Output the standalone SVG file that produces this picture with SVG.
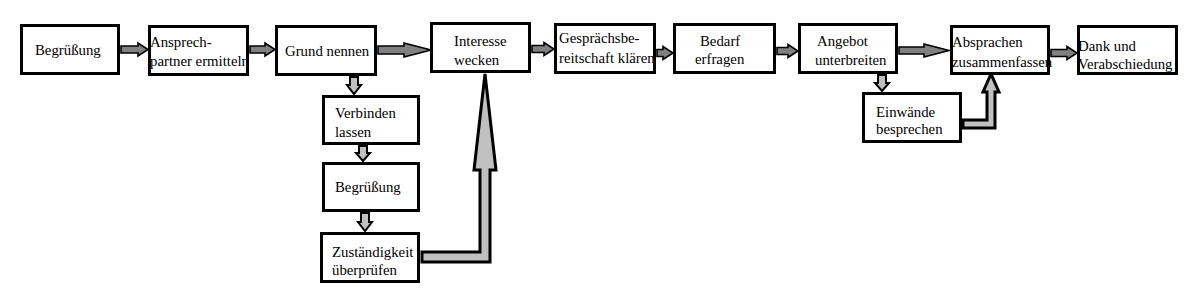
<svg xmlns="http://www.w3.org/2000/svg" width="1188" height="294" viewBox="0 0 1188 294">
<style>
.box{fill:#fff;stroke:#000;stroke-width:3}
text{font-family:'Liberation Serif','DejaVu Serif','Times New Roman',serif;font-size:14.8px;fill:#000}
.ha{fill:#808080;stroke:#000;stroke-width:1.6;stroke-linejoin:miter}
.va{fill:#c0c0c0;stroke:#000;stroke-width:2}
.big{fill:#c0c0c0;stroke:#000;stroke-width:3;stroke-linejoin:miter}
</style>
<rect width="1188" height="294" fill="#fff"/>
<g id="connectors">
<path class="ha" d="M121,46 L138,46 L138,43 L148,49.5 L138,56 L138,53 L121,53 Z"/>
<path class="ha" d="M250,46 L265,46 L265,43 L275,49.5 L265,56 L265,53 L250,53 Z"/>
<path class="ha" d="M378,46 L404,46 L404,43 L431,50 L404,57 L404,54 L378,54 Z"/>
<path class="ha" d="M532,45.5 L544,45.5 L544,42.5 L554,49 L544,55.5 L544,52.5 L532,52.5 Z"/>
<path class="ha" d="M657,49.5 L663,49.5 L663,46.5 L673,53 L663,59.5 L663,56.5 L657,56.5 Z"/>
<path class="ha" d="M777,47.5 L788,47.5 L788,44.5 L798,51 L788,57.5 L788,54.5 L777,54.5 Z"/>
<path class="ha" d="M899,47 L924,47 L924,44 L949,50.5 L924,57 L924,54 L899,54 Z"/>
<path class="ha" d="M1051,49.5 L1067,49.5 L1067,46.5 L1077,53 L1067,59.5 L1067,56.5 L1051,56.5 Z"/>
<path class="va" d="M350,77 L350,85 L347,85 L354,94 L361,85 L358,85 L358,77 Z"/>
<path class="va" d="M359,146 L359,153 L356,153 L363,161 L370,153 L367,153 L367,146 Z"/>
<path class="va" d="M361,213 L361,222 L358,222 L365,231 L372,222 L369,222 L369,213 Z"/>
<path class="va" d="M878,75 L878,83 L875,83 L882,91 L889,83 L886,83 L886,75 Z"/>
<path class="big" d="M422,252 L480,252 L480,170 L474,170 L485,74 L496,170 L490,170 L490,262 L422,262 Z"/>
<path class="va" style="stroke-width:3" d="M963,120 L987,120 L987,92 L983,92 L991,74 L999,92 L995,92 L995,128 L963,128 Z"/>
</g>
<g id="n1"><rect class="box" x="21.5" y="25.5" width="97" height="48"/><text x="35" y="55">Begrüßung</text></g>
<g id="n2"><rect class="box" x="149.5" y="26.5" width="98" height="48"/><text x="150" y="47">Ansprech-</text><text x="150" y="66">partner ermitteln</text></g>
<g id="n3"><rect class="box" x="276.5" y="26.5" width="99" height="48"/><text x="285" y="56">Grund nennen</text></g>
<g id="n4"><rect class="box" x="431.5" y="23.5" width="98" height="48"/><text x="454" y="46">Interesse</text><text x="454" y="65">wecken</text></g>
<g id="n5"><rect class="box" x="555.5" y="24.5" width="99" height="48"/><text x="559" y="43">Gesprächsbe-</text><text x="559" y="63">reitschaft klären</text></g>
<g id="n6"><rect class="box" x="674.5" y="24.5" width="100" height="48"/><text x="700" y="46">Bedarf</text><text x="695" y="64">erfragen</text></g>
<g id="n7"><rect class="box" x="799.5" y="24.5" width="97" height="48"/><text x="817" y="46">Angebot</text><text x="815" y="65">unterbreiten</text></g>
<g id="n8"><rect class="box" x="951.5" y="26.5" width="97" height="47"/><text x="952" y="47">Absprachen</text><text x="952" y="67">zusammenfassen</text></g>
<g id="n9"><rect class="box" x="1078.5" y="26.5" width="98" height="47"/><text x="1078" y="51">Dank und</text><text x="1078" y="69">Verabschiedung</text></g>
<g id="n10"><rect class="box" x="323.5" y="96.5" width="95" height="47"/><text x="335" y="118">Verbinden</text><text x="335" y="137">lassen</text></g>
<g id="n11"><rect class="box" x="323.5" y="163.5" width="95" height="47"/><text x="335" y="192">Begrüßung</text></g>
<g id="n12"><rect class="box" x="321.5" y="233.5" width="97" height="48"/><text x="332" y="257">Zuständigkeit</text><text x="332" y="275">überprüfen</text></g>
<g id="n13"><rect class="box" x="863.5" y="93.5" width="97" height="48"/><text x="876" y="117">Einwände</text><text x="876" y="134">besprechen</text></g>
</svg>
